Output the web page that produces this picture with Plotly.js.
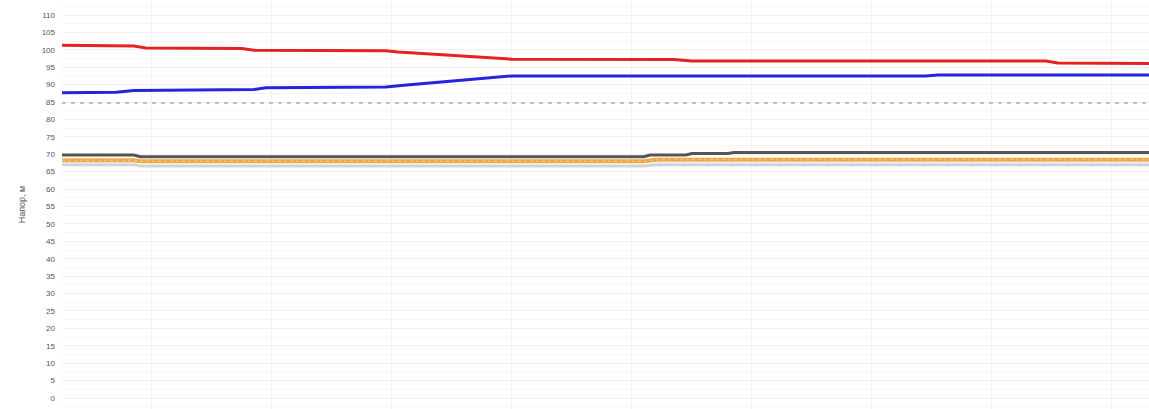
<!DOCTYPE html>
<html>
<head>
<meta charset="utf-8">
<script src="https://cdn.plot.ly/plotly-3.0.1.min.js"></script>
<style>html,body{margin:0;padding:0;background:#fff;}#chart{width:1149px;height:409px;}</style>
</head>
<body>
<div id="chart"></div>
<script>
// Time (hours) and head values (m)
const redX   = [0.25, 0.85, 0.95, 1.75, 1.85, 2.95, 3.05, 3.85, 4.0, 5.35, 5.5, 8.45, 8.55, 9.31];
const redY   = [101.3, 101.1, 100.5, 100.4, 99.9, 99.7, 99.4, 97.6, 97.3, 97.2, 96.8, 96.8, 96.2, 96.1];
const blueX  = [0.25, 0.7, 0.85, 1.85, 1.95, 2.95, 3.1, 3.9, 4.0, 7.45, 7.55, 9.31];
const blueY  = [87.7, 87.8, 88.3, 88.6, 89.1, 89.3, 89.8, 92.3, 92.5, 92.5, 92.8, 92.8];
const dashX  = [0.25, 9.31];
const dashY  = [84.7, 84.7];
const darkX  = [0.25, 0.85, 0.9, 5.1, 5.15, 5.45, 5.5, 5.8, 5.85, 9.31];
const darkY  = [69.8, 69.8, 69.3, 69.3, 69.8, 69.8, 70.2, 70.2, 70.5, 70.5];
const orangeX = [0.25, 0.85, 0.9, 5.1, 5.2, 9.31];
const orangeY = [68.3, 68.3, 68.0, 68.0, 68.4, 68.4];
const greyX  = [0.25, 0.85, 0.9, 5.1, 5.2, 9.31];
const greyY  = [67.0, 67.0, 66.6, 66.6, 67.0, 67.0];
const yTicks = [0,5,10,15,20,25,30,35,40,45,50,55,60,65,70,75,80,85,90,95,100,105,110];

const traces = [
  {x: greyX, y: greyY, mode:'lines', line:{color:'#cfd3dc', width:3}},
  {x: orangeX, y: orangeY, mode:'lines', line:{color:'#eea744', width:4}},
  {x: orangeX, y: orangeY, mode:'lines', line:{color:'#f6cf8e', width:1, dash:'dot'}},
  {x: darkX, y: darkY, mode:'lines', line:{color:'#5b5254', width:3}},
  {x: dashX, y: dashY, mode:'lines', line:{color:'#8fb5dc', width:1.5, dash:'4px,5px'}},
  {x: blueX, y: blueY, mode:'lines', line:{color:'#2424dd', width:3}},
  {x: redX, y: redY, mode:'lines', line:{color:'#e42222', width:3}}
];

const layout = {
  width:1149, height:409,
  margin:{l:62, r:0, t:0, b:0},
  paper_bgcolor:'#ffffff', plot_bgcolor:'#ffffff',
  showlegend:false,
  font:{family:'Liberation Sans, Arial, sans-serif', size:8, color:'#555'},
  xaxis:{range:[0.25, 9.31], dtick:1, tick0:0, showticklabels:false, zeroline:false,
         showgrid:true, gridcolor:'#f1f1f1', gridwidth:1, showline:false, ticks:''},
  yaxis:{range:[-3.16, 114.31], tickvals:yTicks, ticktext:yTicks.map(String), zeroline:false,
         showgrid:true, gridcolor:'#f0f0f0', gridwidth:1, ticks:'', ticklabelstandoff:6,
         minor:{dtick:2.5, tick0:0, showgrid:true, gridcolor:'#f5f5f5', gridwidth:1},
         tickfont:{size:8, color:'#555'},
         title:{text:'Напор, м', font:{size:9, color:'#555'}, standoff:14}}
};
Plotly.newPlot('chart', traces, layout, {displayModeBar:false, staticPlot:true});
</script>
</body>
</html>
